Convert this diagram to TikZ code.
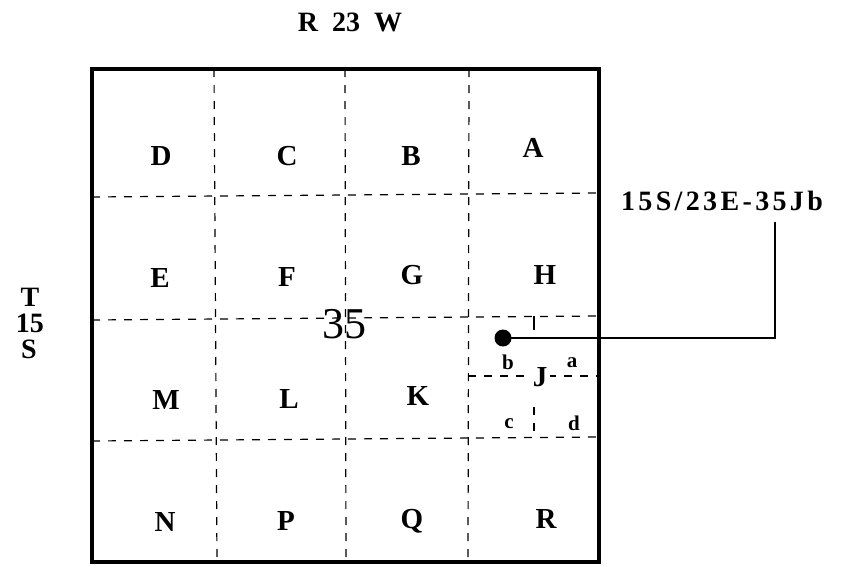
\documentclass[tikz,border=0pt]{standalone}
\usepackage{fontspec}
\setmainfont{Liberation Serif}
\usetikzlibrary{positioning}
\tikzset{
  border/.style = {line width=3.2pt},
  qline/.style  = {line width=1.2pt, dash pattern=on 8pt off 8pt},
  sect/.style   = {font=\fontsize{29}{29}\selectfont\bfseries, inner sep=0},
  qq/.style     = {font=\fontsize{21}{21}\selectfont\bfseries, inner sep=0},
  secno/.style  = {font=\fontsize{44}{44}\selectfont, inner sep=0},
  twp/.style    = {font=\fontsize{28}{28}\selectfont\bfseries, inner sep=0},
  tag/.style    = {font=\fontsize{28}{28}\selectfont\bfseries\addfontfeature{LetterSpace=12}, inner sep=0},
  pin/.style    = {circle, fill=black, minimum size=17pt, inner sep=0},
  leader/.style = {line width=1.5pt}
}

\begin{document}
\begin{tikzpicture}[x=1pt, y=-1pt]
  \useasboundingbox (0,0) rectangle (856,565);

  % ---------- township / range ----------
  \node[twp] (rng) at (350,22) {R\enspace 23\enspace W};
  \node[twp] (tT) at (30,297) {T};
  \node[twp] (t15) at (30,323) {15};
  \node[twp] (tS) at (29,349) {S};

  % ---------- section 35 ----------
  \draw[border] (92,69) rectangle (599,562);

  \draw[qline] (92,197) -- (599,193);
  \draw[qline] (92,320) -- (599,316);
  \draw[qline] (92,441) -- (599,437);
  \draw[qline] (214,69) -- (217,562);
  \draw[qline] (345,69) -- (346,562);
  \draw[qline] (469,69) -- (468,562);

  \node[secno] (no) at (344,324) {35};

  % quarter-quarters
  \node[sect] (D) at (161,156) {D};
  \node[sect] (C) at (287,156) {C};
  \node[sect] (B) at (411,156) {B};
  \node[sect] (A) at (533,148) {A};
  \node[sect] (E) at (160,278) {E};
  \node[sect] (F) at (287,277) {F};
  \node[sect] (G) at (412,275) {G};
  \node[sect] (H) at (545,275) {H};
  \node[sect] (M) at (166,400) {M};
  \node[sect] (L) at (289,399) {L};
  \node[sect] (K) at (418,396) {K};
  \node[sect] (N) at (165,522) {N};
  \node[sect] (P) at (286,521) {P};
  \node[sect] (Q) at (412,521) {Q};
  \node[sect] (R) at (546,519) {R};

  % ---------- J split in four ----------
  \draw[qline] (468,376) -- (599,376);
  \draw[line width=1.2pt] (534,316) -- (534,330);
  \draw[qline] (534,407) -- (534,437);
  \node[sect, fill=white, inner sep=3pt] (J) at (540,377) {J};
  \node[qq] (Jb) at (508,362) {b};
  \node[qq] (Ja) at (572,363) {a};
  \node[qq] (Jc) at (509,424) {c};
  \node[qq] (Jd) at (574,423) {d};

  % ---------- location call-out ----------
  \node[pin] (dot) at (503,338) {};
  \node[tag] (tag) at (722,201) {15S/23E-35Jb};
  \coordinate (elb) at (775,338);
  \coordinate (top) at (775,222);
  \draw[leader] (dot.center) -- (elb) -- (top);

\end{tikzpicture}
\end{document}
